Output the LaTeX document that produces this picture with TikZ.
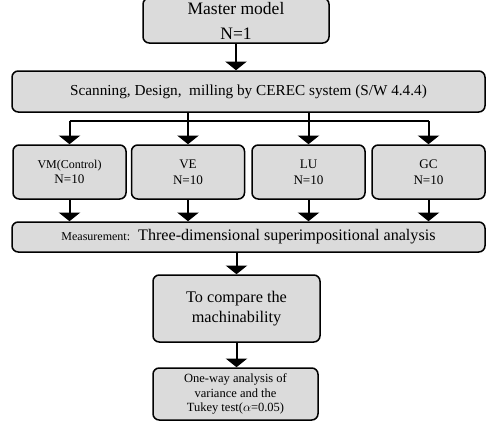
\documentclass[tikz,border=0pt]{standalone}
\usepackage{fontspec}
\setmainfont{Liberation Serif}
\usetikzlibrary{arrows.meta}

\begin{document}
\begin{tikzpicture}[x=0.8pt,y=-0.8pt,
    box/.style={draw,line width=1.2pt,rounded corners=5pt,fill=black!14,
      align=center,inner sep=0pt},
    arr/.style={line width=1.6pt,-{Triangle[width=17pt,length=7pt]}},
    link/.style={line width=1.6pt}]
  \useasboundingbox (0,0) rectangle (488,432);
  \node[box,minimum width=148.8pt,minimum height=36pt,font=\fontsize{14}{17}\selectfont]
    (master) at (236,20.5) {Master model\\[3pt]N=1};
  \node[box,minimum width=378.4pt,minimum height=32.8pt,font=\fontsize{12.2}{15}\selectfont]
    (scan) at (248.5,91.5) {Scanning, Design,\ \ milling by CEREC system (S/W 4.4.4)};
  \node[box,minimum width=90.4pt,minimum height=43.2pt,font=\fontsize{10.5}{12.5}\selectfont]
    (vm) at (69.5,172) {{\fontsize{9.6}{12}\selectfont VM(Control)}\\N=10};
  \node[box,minimum width=90.4pt,minimum height=43.2pt,font=\fontsize{10.5}{12.5}\selectfont]
    (ve) at (188,172) {VE\\N=10};
  \node[box,minimum width=90.4pt,minimum height=43.2pt,font=\fontsize{10.5}{12.5}\selectfont]
    (lu) at (308.5,172) {LU\\N=10};
  \node[box,minimum width=90.4pt,minimum height=43.2pt,font=\fontsize{10.5}{12.5}\selectfont]
    (gc) at (428.5,172) {GC\\N=10};
  \node[box,minimum width=378.4pt,minimum height=24pt,font=\fontsize{12.9}{14}\selectfont]
    (meas) at (248.5,237) {{\fontsize{9.6}{10}\selectfont Measurement:}\ \ Three-dimensional superimpositional analysis};
  \node[box,minimum width=133.6pt,minimum height=53.6pt,font=\fontsize{13}{16}\selectfont]
    (comp) at (236.5,308.5) {To compare the\\machinability};
  \node[box,minimum width=132pt,minimum height=41.6pt,font=\fontsize{10}{11.6}\selectfont]
    (anova) at (235.5,394) {One-way analysis of\\variance and the\\Tukey test($\alpha$=0.05)};
  % arrows
  \draw[arr] (master.south) -- (master.south |- scan.north);
  \coordinate (bar) at (0,121);
  \draw[link] (bar -| vm.north) -- (bar -| gc.north);
  \draw[arr] (bar -| vm.north) -- (vm.north);
  \draw[arr] (scan.south -| ve.north) -- (ve.north);
  \draw[arr] (scan.south -| lu.north) -- (lu.north);
  \draw[arr] (bar -| gc.north) -- (gc.north);
  \foreach \g in {vm,ve,lu,gc}
    \draw[arr] (\g.south) -- (\g.south |- meas.north);
  \draw[arr] (comp.north |- meas.south) -- (comp.north);
  \draw[arr] (comp.south) -- (comp.south |- anova.north);
\end{tikzpicture}
\end{document}
